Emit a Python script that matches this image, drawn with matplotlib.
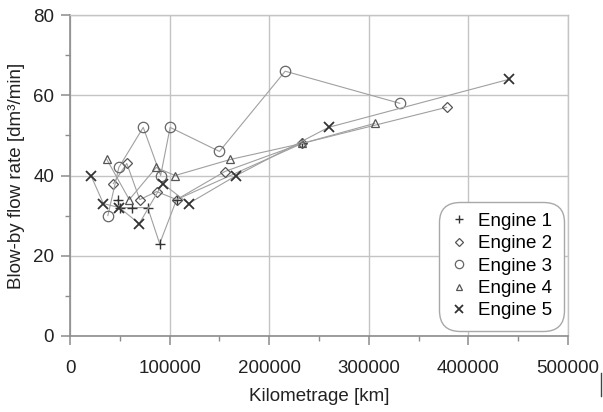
import matplotlib.pyplot as plt
from matplotlib.lines import Line2D

plt.rcParams["font.family"] = ["Liberation Sans", "DejaVu Sans"]

# Blow-by measurements per engine: kilometrage [km] and flow rate [dm3/min]
engine1_km = [48000, 50000, 62000, 78000, 90000, 107000, 233000]
engine1_rate = [34, 32, 32, 32, 23, 34, 48]

engine2_km = [43500, 57000, 70000, 87000, 107000, 155500, 233000, 378000]
engine2_rate = [38, 43, 34, 36, 34, 41, 48, 57]

engine3_km = [38000, 49000, 73500, 91000, 100500, 150000, 216000, 331000]
engine3_rate = [30, 42, 52, 40, 52, 46, 66, 58]

engine4_km = [37000, 59500, 86500, 105500, 161000, 233000, 306000]
engine4_rate = [44, 34, 42, 40, 44, 48, 53]

engine5_km = [21000, 33500, 49500, 69500, 93000, 119000, 167000, 259500, 441000]
engine5_rate = [40, 33, 32, 28, 38, 33, 40, 52, 64]

labels = ["Engine 1", "Engine 2", "Engine 3", "Engine 4", "Engine 5"]

LINE_COLOR = "#a0a0a0"
GRID_COLOR = "#c4c4c4"
AXIS_COLOR = "#8c8c8c"

fig = plt.figure(figsize=(6.03, 4.12), dpi=100)
ax = fig.add_axes([0.1161, 0.1845, 0.826, 0.779])

series = [
    (engine1_km, engine1_rate, "+", 7, "#333333", 1.0),
    (engine2_km, engine2_rate, "D", 5, "#555555", 0.9),
    (engine3_km, engine3_rate, "o", 7.5, "#666666", 0.9),
    (engine4_km, engine4_rate, "^", 5.5, "#555555", 0.9),
    (engine5_km, engine5_rate, "x", 7.5, "#333333", 1.3),
]

for (km, rate, marker, ms, mec, mew), label in zip(series, labels):
    ax.plot(km, rate, color=LINE_COLOR, lw=0.8, marker=marker, ms=ms,
            mfc="none", mec=mec, mew=mew, label=label, zorder=3)

ax.set_xlim(0, 500000)
ax.set_ylim(0, 80)
ax.set_xticks(range(0, 500001, 100000))
ax.set_xticks(range(50000, 500000, 100000), minor=True)
ax.set_yticks(range(0, 81, 20))
ax.set_yticks(range(10, 80, 20), minor=True)

ax.grid(True, which="major", color=GRID_COLOR, lw=1.0)
ax.set_axisbelow(True)

for side in ["left", "bottom"]:
    ax.spines[side].set_color(AXIS_COLOR)
    ax.spines[side].set_linewidth(1.2)
for side in ["top", "right"]:
    ax.spines[side].set_color(GRID_COLOR)
    ax.spines[side].set_linewidth(1.0)

ax.tick_params(which="major", direction="out", length=6.5, width=1.1,
               color=AXIS_COLOR, labelsize=13.5, labelcolor="#222222")
ax.tick_params(which="minor", direction="out", length=3.5, width=1.0,
               color=AXIS_COLOR)
ax.tick_params(axis="x", which="major", pad=11)
ax.tick_params(axis="y", which="major", pad=5)

ax.set_xlabel("Kilometrage [km]", fontsize=13.5, color="#222222", labelpad=8)
ax.set_ylabel("Blow-by flow rate [dm³/min]", fontsize=13.5, color="#222222",
              labelpad=6)

leg = ax.legend(loc="lower right", bbox_to_anchor=(0.98, 0.034),
                borderaxespad=0, fontsize=13.5, handlelength=0.9,
                handletextpad=0.6, labelspacing=0.28, borderpad=0.3,
                markerscale=0.8, fancybox=True, framealpha=1,
                edgecolor="#a8a8a8")
leg.get_frame().set_boxstyle("round", pad=0.3, rounding_size=1.1)
leg.get_frame().set_linewidth(1.0)
for line in leg.get_lines():
    line.set_linestyle("none")

# small vertical stroke at the lower right edge
fig.add_artist(Line2D([0.996, 0.996], [0.04, 0.095], color="#444444", lw=1.0,
                      transform=fig.transFigure))

fig.savefig("out.png", dpi=100)
